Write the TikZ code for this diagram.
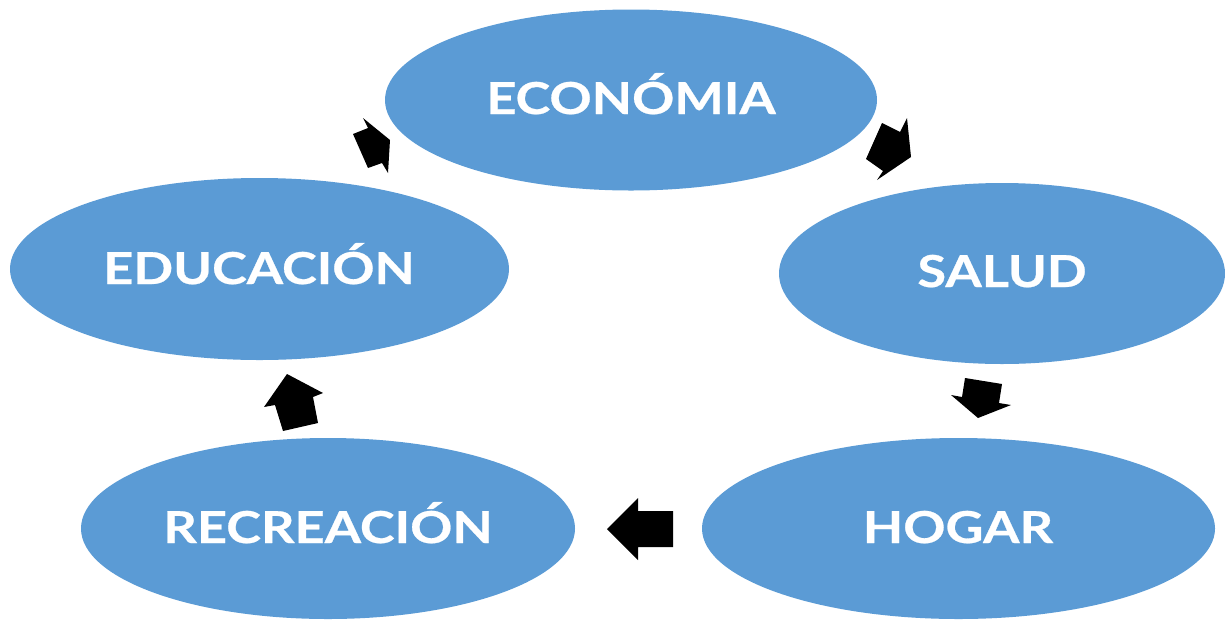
\documentclass[tikz,border=0pt]{standalone}
\usepackage{fontspec}
\setmainfont{Lato}
\newfontfamily\lblfont[FakeStretch=1.19, FakeBold=0.6]{Lato Bold}
\definecolor{ellblue}{HTML}{5B9BD5}
\tikzset{
  ell/.style={fill=ellblue, draw=none},
  lbl/.style={text=white, font=\lblfont\fontsize{44}{50}\selectfont, anchor=base, inner sep=0pt},
  blockarrow/.style={fill=black, draw=none}
}
\begin{document}
\begin{tikzpicture}[x=1pt,y=-1pt]
\useasboundingbox (0,0) rectangle (1225,619);
% ellipses
\fill[ell] (631,100) ellipse [x radius=246, y radius=90.5];
\fill[ell] (1002,273.5) ellipse [x radius=223, y radius=90.5];
\fill[ell] (958.5,528.5) ellipse [x radius=256.5, y radius=90.5];
\fill[ell] (328,528.5) ellipse [x radius=247, y radius=90.5];
\fill[ell] (259.5,269) ellipse [x radius=249.5, y radius=91];
% labels
\node[lbl] (eco) at (631,114) {ECONÓMIA};
\node[lbl] (sal) at (1002,287) {SALUD};
\node[lbl] (hog) at (958,543) {HOGAR};
\node[lbl] (rec) at (328,543) {RECREACIÓN};
\node[lbl] (edu) at (259,284) {EDUCACIÓN};
% block arrows
\fill[blockarrow] (882,123) -- (900,132) -- (907,118) -- (911,157) -- (877,180) -- (883,171) -- (866,159) -- cycle;
\fill[blockarrow] (965,378) -- (1002,384) -- (999,403) -- (1011,405) -- (978,418) -- (951,395) -- (962,397) -- cycle;
\fill[blockarrow] (673,511) -- (673,547) -- (638,547) -- (638,560) -- (607,529) -- (638,498) -- (638,511) -- cycle;
\fill[blockarrow] (283,431) -- (318,423) -- (313,397) -- (323,393) -- (287,374) -- (264,407) -- (275,405) -- cycle;
\fill[blockarrow] (363,118) -- (368,128) -- (353,134) -- (368,168) -- (382,163) -- (388,173) -- (390,140) -- cycle;
\end{tikzpicture}
\end{document}
